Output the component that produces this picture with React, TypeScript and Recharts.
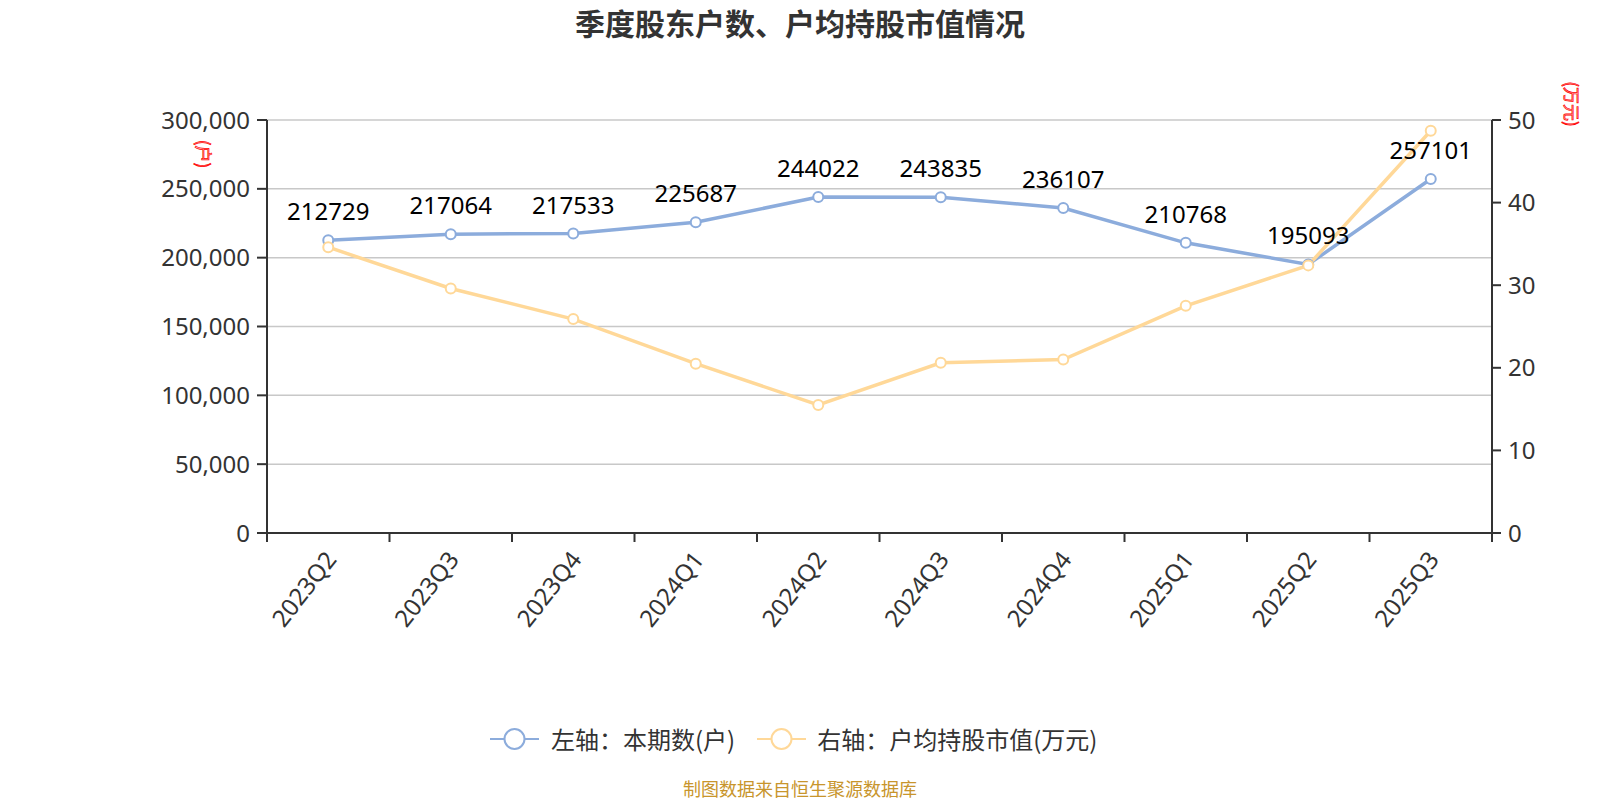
import { LineChart, Line, XAxis, YAxis, CartesianGrid, LabelList } from 'recharts';

const quarters = ['2023Q2', '2023Q3', '2023Q4', '2024Q1', '2024Q2', '2024Q3', '2024Q4', '2025Q1', '2025Q2', '2025Q3'];
const holders = [212729, 217064, 217533, 225687, 244022, 243835, 236107, 210768, 195093, 257101];
const avgValue = [34.6, 29.6, 25.9, 20.5, 15.5, 20.6, 21.0, 27.5, 32.4, 48.7];
const leftTicks = [0, 50000, 100000, 150000, 200000, 250000, 300000];
const rightTicks = [0, 10, 20, 30, 40, 50];

const BLUE = '#8cacdc';
const ORANGE = '#ffd898';
const FONT = "'Noto Sans', 'Noto Sans CJK SC', sans-serif";

const W = 1600;
const H = 800;
const margin = { top: 120, right: 48, bottom: 127, left: 167 };
const LEFT_W = 100;
const RIGHT_W = 60;
const X_H = 140;
const band = (W - margin.left - margin.right - LEFT_W - RIGHT_W) / quarters.length;

const data = quarters.map((q, i) => ({ quarter: q, holders: holders[i], avg: avgValue[i] }));

function QuarterTick(props: any) {
  const { x, y, payload, index } = props;
  const half = band / 2;
  const last = index === quarters.length - 1;
  return (
    <g>
      <line x1={x - half} x2={x - half} y1={y} y2={y + 9} stroke="#333" strokeWidth={2} />
      {last && <line x1={x + half} x2={x + half} y1={y} y2={y + 9} stroke="#333" strokeWidth={2} />}
      <text
        x={0}
        y={0}
        transform={`translate(${x + 2},${y + 21}) rotate(-52)`}
        textAnchor="end"
        dominantBaseline="central"
        fontSize={24}
        fill="#333"
        fontFamily={FONT}
      >
        {payload.value}
      </text>
    </g>
  );
}

function LegendIcon({ color }: { color: string }) {
  return (
    <svg width={49} height={26}>
      <line x1={0} x2={49} y1={13} y2={13} stroke={color} strokeWidth={2} />
      <circle cx={24.5} cy={13} r={10} fill="#fff" stroke={color} strokeWidth={2} />
    </svg>
  );
}

const dotStyle = (color: string) => ({ r: 5, fill: '#fff', stroke: color, strokeWidth: 2 });

export default function App() {
  return (
    <div style={{ position: 'absolute', left: 0, top: 0, width: W, height: H, background: '#fff', fontFamily: FONT }}>
      <div
        style={{
          position: 'absolute',
          left: 0,
          top: 1,
          width: W,
          textAlign: 'center',
          fontSize: 30,
          lineHeight: '42px',
          fontWeight: 'bold',
          color: '#333',
          fontFamily: "'Noto Sans CJK SC', sans-serif",
        }}
      >
        季度股东户数、户均持股市值情况
      </div>

      <LineChart width={W} height={H} data={data} margin={margin}>
        <CartesianGrid yAxisId="left" vertical={false} stroke="#c8c8c8" strokeWidth={1.5} />
        <XAxis
          dataKey="quarter"
          height={X_H}
          interval={0}
          padding={{ left: band / 2, right: band / 2 }}
          tickLine={false}
          tickSize={0}
          tickMargin={0}
          axisLine={{ stroke: '#333', strokeWidth: 2 }}
          tick={<QuarterTick />}
        />
        <YAxis
          yAxisId="left"
          width={LEFT_W}
          domain={[0, 300000]}
          ticks={leftTicks}
          tickFormatter={(v: number) => v.toLocaleString('en-US')}
          tick={{ fontSize: 24, fill: '#333', fontFamily: FONT }}
          tickSize={10}
          tickMargin={7}
          tickLine={{ stroke: '#333', strokeWidth: 2 }}
          axisLine={{ stroke: '#333', strokeWidth: 2 }}
        />
        <YAxis
          yAxisId="right"
          orientation="right"
          width={RIGHT_W}
          domain={[0, 50]}
          ticks={rightTicks}
          tick={{ fontSize: 24, fill: '#333', fontFamily: FONT, textAnchor: 'start' }}
          tickSize={9}
          tickMargin={7}
          tickLine={{ stroke: '#333', strokeWidth: 2 }}
          axisLine={{ stroke: '#333', strokeWidth: 2 }}
        />
        <Line
          yAxisId="left"
          dataKey="holders"
          stroke={BLUE}
          strokeWidth={3.5}
          dot={dotStyle(BLUE)}
          activeDot={false}
          isAnimationActive={false}
        />
        <Line
          yAxisId="right"
          dataKey="avg"
          stroke={ORANGE}
          strokeWidth={3.5}
          dot={dotStyle(ORANGE)}
          activeDot={false}
          isAnimationActive={false}
        />
        <Line
          yAxisId="left"
          dataKey="holders"
          stroke="none"
          dot={false}
          activeDot={false}
          isAnimationActive={false}
        >
          <LabelList dataKey="holders" position="top" offset={20} fontSize={24} fill="#000" fontFamily={FONT} />
        </Line>
      </LineChart>

      <div
        style={{
          position: 'absolute',
          left: 204,
          top: 154,
          transform: 'translate(-50%, -50%) rotate(90deg)',
          fontSize: 17,
          color: '#ffc0c0',
          WebkitTextStroke: '0.7px #f00',
          fontFamily: "'Noto Sans CJK SC', sans-serif",
          whiteSpace: 'nowrap',
        }}
      >
        (户)
      </div>
      <div
        style={{
          position: 'absolute',
          left: 1572,
          top: 104,
          transform: 'translate(-50%, -50%) rotate(90deg)',
          fontSize: 17,
          color: '#ffc0c0',
          WebkitTextStroke: '0.7px #f00',
          fontFamily: "'Noto Sans CJK SC', sans-serif",
          whiteSpace: 'nowrap',
        }}
      >
        (万元)
      </div>

      <div
        style={{
          position: 'absolute',
          left: 490,
          top: 721,
          display: 'flex',
          alignItems: 'center',
          fontSize: 24,
          color: '#333',
          fontFamily: "'Noto Sans CJK SC', sans-serif",
          whiteSpace: 'nowrap',
        }}
      >
        <LegendIcon color={BLUE} />
        <span style={{ marginLeft: 12, marginRight: 22 }}>左轴：本期数(户)</span>
        <LegendIcon color={ORANGE} />
        <span style={{ marginLeft: 11 }}>右轴：户均持股市值(万元)</span>
      </div>

      <div
        style={{
          position: 'absolute',
          left: 0,
          top: 778,
          width: W,
          textAlign: 'center',
          fontSize: 18,
          lineHeight: '20px',
          color: '#c8952c',
          fontFamily: "'Noto Sans CJK SC', sans-serif",
        }}
      >
        制图数据来自恒生聚源数据库
      </div>
    </div>
  );
}
